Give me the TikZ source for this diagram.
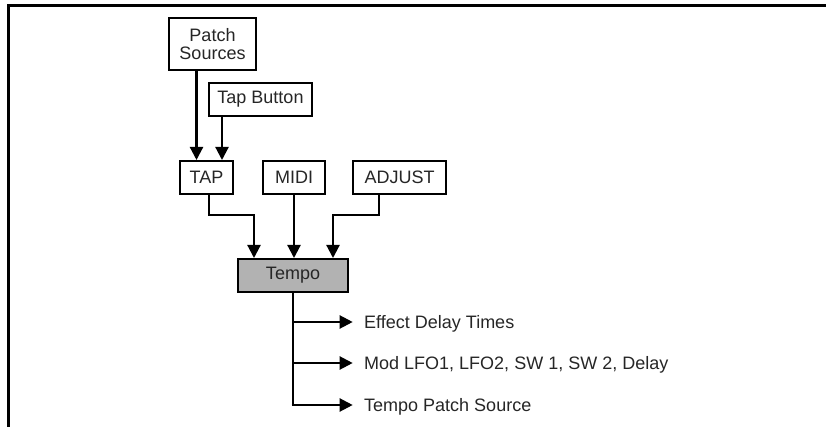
\documentclass[tikz,border=0pt]{standalone}
\usepackage{fontspec}
\setmainfont{Liberation Sans}
\usetikzlibrary{arrows.meta,calc}
\begin{document}
\begin{tikzpicture}[x=1pt,y=-1pt,
  box/.style={draw=black, line width=2.4pt, fill=white, inner sep=0pt,
    minimum height=32.6pt, font=\fontsize{18}{18}\selectfont, text=black!85, align=center},
  tempobox/.style={box, fill=black!30},
  conn/.style={line width=2.2pt, -{Triangle[length=13pt,width=13pt]}},
  outlbl/.style={anchor=base west, inner sep=0pt, font=\fontsize{18}{18}\selectfont, text=black!85},
  frame/.style={line width=2.6pt}
]
\useasboundingbox (0,0) rectangle (826,427);
\coordinate (fbl) at (8.7,430);
\coordinate (ftl) at (8.7,5.8);
\coordinate (ftr) at (830,5.8);
\draw[frame] (fbl) -- (ftl) -- (ftr);

\node[box, minimum width=86.6pt, minimum height=51.6pt] (ps) at (212.5,44) {Patch\\Sources};
\node[box, minimum width=102.6pt] (tb) at (260.5,99.5) {Tap Button};
\node[box, minimum width=52.6pt] (tap) at (206.5,177.5) {TAP};
\node[box, minimum width=61.6pt] (midi) at (294,177.5) {MIDI};
\node[box, minimum width=92.6pt] (adj) at (399.5,177.5) {ADJUST};
\node[tempobox, minimum width=109.6pt] (tempo) at (293,275.5) {Tempo};

% inputs to TAP
\draw[conn] ([xshift=-16pt]ps.south) -- ([xshift=-16pt]ps.south |- tap.north);
\draw[conn] ([xshift=-38.5pt]tb.south) -- ([xshift=-38.5pt]tb.south |- tap.north);

% into Tempo
\coordinate (tapturn) at ($(tap.south)+(2.5,20)$);
\coordinate (tapin) at ($(tempo.north)+(-39,0)$);
\draw[conn] ([xshift=2.5pt]tap.south) -- (tapturn) -| (tapin);
\draw[conn] (midi.south) -- (midi.south |- tempo.north);
\coordinate (adjturn) at ($(adj.south)+(-20.5,20)$);
\coordinate (adjin) at ($(tempo.north)+(40,0)$);
\draw[conn] ([xshift=-20.5pt]adj.south) -- (adjturn) -| (adjin);

% outputs
\coordinate (o1) at (352.7,322);
\coordinate (o2) at (352.7,363);
\coordinate (o3) at (352.7,405);
\node[outlbl] (l1) at (364,328.5) {Effect Delay Times};
\node[outlbl] (l2) at (364,369.5) {Mod LFO1, LFO2, SW 1, SW 2, Delay};
\node[outlbl] (l3) at (364,411) {Tempo Patch Source};
\draw[line width=2.2pt] ([xshift=-0.3pt]tempo.south) -- ([xshift=-0.3pt]tempo.south |- o3);
\draw[conn] ([xshift=-0.3pt]tempo.south |- o1) -- (o1);
\draw[conn] ([xshift=-0.3pt]tempo.south |- o2) -- (o2);
\draw[conn, shorten <=-1.1pt] ([xshift=-0.3pt]tempo.south |- o3) -- (o3);
\end{tikzpicture}
\end{document}
